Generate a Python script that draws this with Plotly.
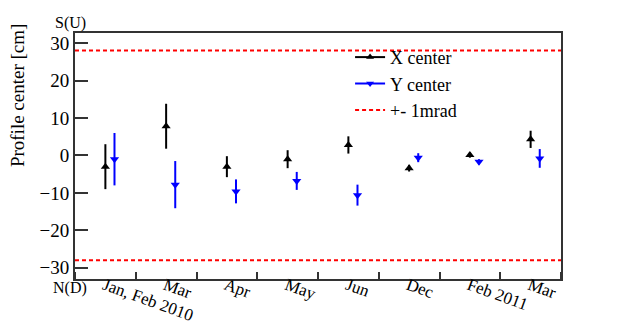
import plotly.graph_objects as go

# Periods of the survey
periods = ["Jan, Feb 2010", "Mar", "Apr", "May", "Jun", "Dec", "Feb 2011", "Mar"]

# Profile centres [cm] and their errors
x_center = [-3.0, 7.8, -3.0, -1.0, 2.8, -3.4, 0.1, 4.3]
x_err = [6.0, 6.0, 2.8, 2.4, 2.3, 0.9, 0.7, 2.3]
y_center = [-1.0, -7.8, -9.6, -6.8, -10.6, -0.6, -1.7, -0.8]
y_err = [7.0, 6.3, 3.2, 2.4, 2.8, 1.2, 0.7, 2.5]

# +- 1 mrad limit [cm]
mrad_limit = 28.0

FONT = "'Liberation Serif', 'Times New Roman', serif"
pos = [i + 0.5 for i in range(len(periods))]
pos_y = [p + 0.15 for p in pos]
n = len(periods)

fig = go.Figure()

# +- 1mrad lines
fig.add_trace(go.Scatter(
    x=[0, n, None, 0, n],
    y=[mrad_limit, mrad_limit, None, -mrad_limit, -mrad_limit],
    mode="lines",
    line={"color": "red", "width": 2, "dash": "4px,3px"},
    showlegend=False,
))

fig.add_trace(go.Scatter(
    x=pos, y=x_center, mode="markers",
    marker={"symbol": "triangle-up", "size": 8, "color": "black"},
    error_y={"type": "data", "array": x_err, "width": 0, "thickness": 2, "color": "black"},
    showlegend=False,
))
fig.add_trace(go.Scatter(
    x=pos_y, y=y_center, mode="markers",
    marker={"symbol": "triangle-down", "size": 8, "color": "blue"},
    error_y={"type": "data", "array": y_err, "width": 0, "thickness": 2, "color": "blue"},
    showlegend=False,
))

# legend entries (ROOT style: line + marker)
fig.add_trace(go.Scatter(
    x=[None], y=[None], mode="lines+markers", name="X center",
    line={"color": "black", "width": 2},
    marker={"symbol": "triangle-up", "size": 7, "color": "black"},
))
fig.add_trace(go.Scatter(
    x=[None], y=[None], mode="lines+markers", name="Y center",
    line={"color": "blue", "width": 2},
    marker={"symbol": "triangle-down", "size": 7, "color": "blue"},
))
fig.add_trace(go.Scatter(
    x=[None], y=[None], mode="lines", name="+- 1mrad",
    line={"color": "red", "width": 2, "dash": "4px,3px"},
))

fig.update_xaxes(
    range=[0, n], automargin=False,
    tickvals=pos, ticktext=periods, tickangle=20,
    ticks="", showgrid=False, zeroline=False,
    showline=True, mirror=True, linecolor="#333", linewidth=2,
    tickfont={"family": FONT, "size": 17, "color": "black"},
    ticklabelstandoff=-12, ticklabelshift=-1,
    minor={"tick0": 0, "dtick": 1, "ticks": "inside", "ticklen": 7,
           "tickcolor": "#333", "tickwidth": 1.5, "showgrid": False},
)
fig.update_yaxes(
    range=[-33, 32.7], dtick=10, automargin=False,
    ticks="inside", ticklen=13, tickcolor="#333", tickwidth=1.5,
    showgrid=False, zeroline=False,
    showline=True, mirror=True, linecolor="#333", linewidth=2,
    tickfont={"family": FONT, "size": 19, "color": "black"},
    ticklabelstandoff=0,
)

# axis title placed at the top end, ROOT style
fig.add_annotation(text="Profile center [cm]", xref="paper", yref="paper",
                   x=-0.117, y=0.744, xanchor="center", yanchor="middle",
                   textangle=-90, showarrow=False,
                   font={"family": FONT, "size": 19, "color": "black"})
fig.add_annotation(text="S(U)", xref="paper", yref="paper", x=-0.01, y=1.0,
                   xanchor="center", yanchor="bottom", yshift=-1, showarrow=False,
                   font={"family": FONT, "size": 16, "color": "black"})
fig.add_annotation(text="N(D)", xref="paper", yref="paper", x=-0.01, y=0.0,
                   xanchor="center", yanchor="top", yshift=2, showarrow=False,
                   font={"family": FONT, "size": 16, "color": "black"})

# the page body adds an 8px offset, so the figure is drawn 8px smaller
fig.update_layout(
    width=615, height=325,
    margin={"l": 67, "r": 62, "t": 25, "b": 54, "autoexpand": False},
    paper_bgcolor="white", plot_bgcolor="white",
    showlegend=True,
    font={"family": FONT},
    legend={"x": 0.566, "y": 0.976, "xanchor": "left", "yanchor": "top",
            "bgcolor": "rgba(0,0,0,0)", "tracegroupgap": 0,
            "font": {"family": FONT, "size": 18, "color": "black"}},
)

fig.write_html("out.html")
